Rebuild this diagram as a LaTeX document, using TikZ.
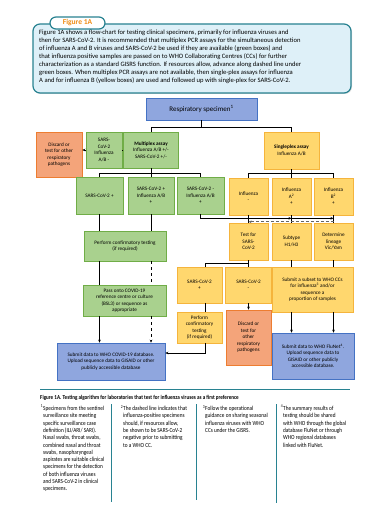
\documentclass[tikz,border=0pt]{standalone}
\usepackage{fontspec}
\setmainfont{Carlito}
\newfontfamily\narrowfont[FakeStretch=0.85]{Carlito}
\usetikzlibrary{arrows.meta, positioning, calc, shadows}
\definecolor{gfill}{RGB}{169,209,142}
\definecolor{gline}{RGB}{112,173,71}
\definecolor{yfill}{RGB}{255,215,110}
\definecolor{yline}{RGB}{245,180,60}
\definecolor{ofill}{RGB}{244,164,122}
\definecolor{oline}{RGB}{237,125,49}
\definecolor{bfill}{RGB}{143,166,222}
\definecolor{bline}{RGB}{68,114,196}
\definecolor{tealrule}{RGB}{40,130,145}
\definecolor{introfill}{RGB}{222,240,248}
\definecolor{figorange}{RGB}{240,140,20}
\newcommand{\flowfont}{\fontsize{5.2}{6.5}\selectfont}
\newcommand{\notefont}{\narrowfont\fontsize{6.2}{7.3}\selectfont}

\begin{document}
\begin{tikzpicture}[x=1pt, y=-1pt,
  box/.style={draw, semithick, align=center, inner sep=1pt, font=\flowfont,
              drop shadow={shadow xshift=0.8pt, shadow yshift=-0.8pt, opacity=0.25}},
  gbox/.style={box, draw=gline, fill=gfill},
  ybox/.style={box, draw=yline, fill=yfill},
  obox/.style={box, draw=oline, fill=ofill},
  bbox/.style={box, draw=bline, fill=bfill},
  line/.style={semithick},
  arr/.style={-{Stealth[length=3pt, width=2.6pt]}, semithick},
  dasharr/.style={arr, dashed},
  note/.style={anchor=north west, inner sep=0pt, align=left, font=\notefont}
]
\useasboundingbox (0,0) rectangle (381,518);

% intro panel
\node[draw=tealrule, line width=1.2pt, fill=introfill, rounded corners=7pt,
      minimum width=318pt, minimum height=69pt,
      drop shadow={shadow xshift=1pt, shadow yshift=-1pt, opacity=0.25}] (intro) at (192,58.5) {};
\node[anchor=north west, inner sep=0pt, align=left, font=\fontsize{6.6}{8}\selectfont] (introtext) at (39,30)
  {Figure 1A shows a flow-chart for testing clinical specimens, primarily for influenza viruses and\\
   then for SARS-CoV-2. It is recommended that multiplex PCR assays for the simultaneous detection\\
   of influenza A and B viruses and SARS-CoV-2 be used if they are available (green boxes) and\\
   that influenza positive samples are passed on to WHO Collaborating Centres (CCs) for further\\
   characterization as a standard GISRS function. If resources allow, advance along dashed line under\\
   green boxes. When multiplex PCR assays are not available, then single-plex assays for influenza\\
   A and for influenza B (yellow boxes) are used and followed up with single-plex for SARS-CoV-2.};
\node[draw=tealrule, line width=1.2pt, fill=white, rounded corners=6pt, minimum width=55pt,
      minimum height=12pt, inner sep=0pt, text=figorange,
      font=\bfseries\fontsize{7.5}{8}\selectfont] (tab) at (77.5,23) {Figure 1A};

% flow chart
\node[bbox, minimum width=111pt, minimum height=22pt, font=\fontsize{7}{8}\selectfont] (spec) at (201.5,109) {Respiratory specimen\textsuperscript{1}};

\node[gbox, minimum width=55pt, minimum height=36pt] (multi) at (151,150) {\textbf{Multiplex assay}\\Influenza A/B +/-\\SARS-CoV-2 +/-};
\node[gbox, minimum width=36pt, minimum height=36pt] (neg) at (104,150) {SARS-\\CoV-2\\Influenza\\A/B -};
\node[obox, minimum width=46pt, minimum height=45pt] (disc) at (59,154.5) {Discard or\\test for other\\respiratory\\pathogens};
\node[ybox, minimum width=55pt, minimum height=37pt] (single) at (291.5,150.5) {\textbf{Singleplex assay}\\Influenza A/B};

\node[gbox, minimum width=47pt, minimum height=37pt] (g1) at (99.5,195.5) {SARS-CoV-2 +};
\node[gbox, minimum width=46pt, minimum height=37pt] (g2) at (151,195.5) {SARS-CoV-2 +\\Influenza A/B\\+};
\node[gbox, minimum width=47pt, minimum height=37pt] (g3) at (200.5,195.5) {SARS-CoV-2 -\\Influenza A/B\\+};

\node[ybox, minimum width=39pt, minimum height=37pt] (y1) at (248.5,196.5) {Influenza\\-};
\node[ybox, minimum width=39pt, minimum height=37pt] (y2) at (291.5,196.5) {Influenza\\A\textsuperscript{2}\\+};
\node[ybox, minimum width=39pt, minimum height=37pt] (y3) at (333.5,196.5) {Influenza\\B\textsuperscript{2}\\+};

\node[ybox, minimum width=39pt, minimum height=37pt] (test) at (248.5,241.5) {Test for\\SARS-\\CoV-2};
\node[ybox, minimum width=39pt, minimum height=37pt] (sub) at (291.5,241.5) {Subtype\\H1/H3};
\node[ybox, minimum width=39pt, minimum height=37pt] (lin) at (333.5,241.5) {Determine\\lineage\\Vic/Yam};

\node[gbox, minimum width=82pt, minimum height=30pt] (conf) at (125,246) {Perform confirmatory testing\\(if required)};
\node[gbox, minimum width=83pt, minimum height=31pt] (pass) at (124.5,300.5) {Pass onto COVID-19\\reference centre or culture\\(BSL3) or sequence as\\appropriate};
\node[bbox, minimum width=108pt, minimum height=37pt] (covid) at (111,361.5) {Submit data to WHO COVID-19 database.\\Upload sequence data to GISAID or other\\publicly accessible database};

\node[ybox, minimum width=45pt, minimum height=36pt] (sp) at (199.5,285) {SARS-CoV-2\\+};
\node[ybox, minimum width=46pt, minimum height=36pt] (sn) at (248.5,285) {SARS-CoV-2\\-};
\node[ybox, minimum width=81pt, minimum height=45pt] (subset) at (312.5,289.5) {Submit a subset to WHO CCs\\for influenza\textsuperscript{3} and/or\\sequence a\\proportion of samples};
\node[ybox, minimum width=45pt, minimum height=31pt] (yconf) at (199.5,327.5) {Perform\\confirmatory\\testing\\(if required)};
\node[obox, minimum width=45pt, minimum height=55pt] (disc2) at (248.5,337.5) {Discard or\\test for\\other\\respiratory\\pathogens};
\node[bbox, minimum width=82pt, minimum height=46pt] (flu) at (313,356) {Submit data to WHO FluNet\textsuperscript{4}.\\Upload sequence data to\\GISAID or other publicly\\accessible database.};

% connectors
\coordinate (js) at ($(spec.south)+(0,7)$);
\draw[line] (spec.south) -- (js) -| (multi.north); \draw[line] (js) -| (single.north);
\draw[line] (multi.west) -- (neg.east);
\draw[arr] (neg.west) -- (neg.west -| disc.east);
\coordinate (jm) at ($(multi.south)+(0,5)$);
\draw[line] (multi.south) -- (g2.north); \draw[line] (g1.north) |- (jm) -| (g3.north);
\coordinate (jy) at ($(single.south)+(0,4)$);
\draw[line] (single.south) -- (y2.north); \draw[line] (y1.north) |- (jy) -| (y3.north);
\draw[line] (y1.south) -- (test.north); \draw[line] (y2.south) -- (sub.north);
\draw[line] (y3.south) -- (lin.north);

\draw[line] (g1.south) -- (g1.south |- conf.north); \draw[line] (g2.south) -- (g2.south |- conf.north);
\draw[line] (g1.south |- conf.south) -- (g1.south |- pass.north);
\draw[line, dashed] (g2.south |- conf.south) -- (g2.south |- pass.north);
\draw[arr] (g1.south |- pass.south) -- (g1.south |- covid.north);
\draw[dasharr] (g2.south |- pass.south) -- (g2.south |- covid.north);

\coordinate (ka) at ($(y2.south)+(0,3)$); \coordinate (kb) at ($(y3.south)+(0,3)$);
\draw[arr] (g3.south) |- (ka); \draw[arr] (ka) -- (kb);
\coordinate (kc) at ($(y3.south)+(0,6.5)$); \coordinate (kd) at ($(y1.south)+(0,6.5)$);
\draw[dasharr, thick, black!60, dash pattern=on 3pt off 2pt] (kc) -- (kd);

\coordinate (jt) at ($(test.south)+(0,3)$);
\draw[line] (test.south) -- (sn.north); \draw[line] (jt) -| ([xshift=6pt]sp.north);
\draw[line] ([xshift=6pt]sp.south) -- ([xshift=6pt]yconf.north);
\draw[arr] ([xshift=6pt]yconf.south) |- ([yshift=8.5pt]covid.east);
\draw[arr] (sn.south) -- (disc2.north);
\draw[line] (sub.south) -- (sub.south |- subset.north); \draw[line] (lin.south) -- (lin.south |- subset.north);
\draw[arr] (sub.south |- subset.south) -- (sub.south |- flu.north);
\draw[arr] (lin.south |- subset.south) -- (lin.south |- flu.north);

% caption and notes
\draw[tealrule, line width=1pt] (40,389) -- (350,389);
\node[anchor=west, inner sep=0pt, font=\narrowfont\bfseries\fontsize{6}{7}\selectfont] (caption) at (40,398)
  {Figure 1A. Testing algorithm for laboratories that test for influenza viruses as a first preference};
\draw[tealrule, thick] (111,404) -- (111,502);
\draw[tealrule, thick] (196,404) -- (196,500);
\draw[tealrule, thick] (276,404) -- (276,503);
\node[note] (n1) at (43,405) {\llap{\textsuperscript{1}}Specimens from the sentinel\\surveillance site meeting\\specific surveillance case\\definition (ILI/ARI/ SARI).\\Nasal swabs, throat swabs,\\combined nasal and throat\\swabs, nasopharyngeal\\aspirates are suitable clinical\\specimens for the detection\\of both influenza viruses\\and SARS-CoV-2 in clinical\\specimens.};
\node[note] (n2) at (123,405) {\llap{\textsuperscript{2}}The dashed line indicates that\\influenza-positive specimens\\should, if resources allow,\\be shown to be SARS-CoV-2\\negative prior to submitting\\to a WHO CC.};
\node[note] (n3) at (205,405) {\llap{\textsuperscript{3}}Follow the operational\\guidance on sharing seasonal\\influenza viruses with WHO\\CCs under the GISRS.};
\node[note] (n4) at (283,405) {\llap{\textsuperscript{4}}The summary results of\\testing should be shared\\with WHO through the global\\database FluNet or through\\WHO regional databases\\linked with FluNet.};
\end{tikzpicture}
\end{document}
